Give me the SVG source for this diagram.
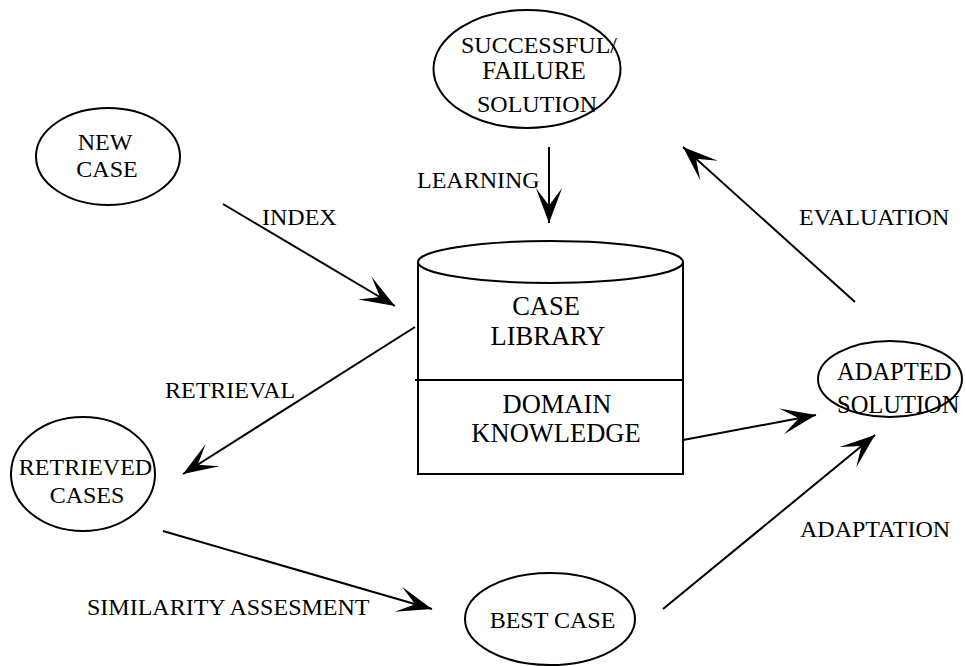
<svg xmlns="http://www.w3.org/2000/svg" width="966" height="666" viewBox="0 0 966 666" font-family="'Liberation Serif', 'DejaVu Serif', serif">
<defs>
<marker id="ah" markerUnits="userSpaceOnUse" markerWidth="40" markerHeight="30" viewBox="-30 -12 32 24" refX="0" refY="0" orient="auto">
<path d="M0,0 L-28,-10.5 L-14,0 L-28,10.5 Z" fill="#000"/>
</marker>
</defs>
<style>
text{font-family:'Liberation Serif','DejaVu Serif',serif;font-size:24px;fill:#000}
.m{text-anchor:middle}
.big{font-size:26.5px}
.n{fill:#fff;stroke:#000;stroke-width:2}
.c line{stroke:#000;stroke-width:2;marker-end:url(#ah)}
</style>
<rect width="966" height="666" fill="#fff"/>
<g id="success">
<ellipse class="n" cx="527" cy="69" rx="93.5" ry="59"/>
<text class="m" x="539" y="53">SUCCESSFUL/</text>
<text class="m" x="534" y="79" style="font-size:25px">FAILURE</text>
<text class="m" x="537" y="112">SOLUTION</text>
</g>
<g id="newcase">
<ellipse class="n" cx="108" cy="156.5" rx="72" ry="48.5"/>
<text class="m" x="105" y="150">NEW</text>
<text class="m" x="107" y="177">CASE</text>
</g>
<g id="library">
<path class="n" d="M418,262 L418,474 L683,474 L683,262"/>
<ellipse class="n" cx="550.5" cy="262" rx="132.5" ry="21"/>
<line x1="415" y1="380" x2="683" y2="380" stroke="#000" stroke-width="2"/>
<text class="m big" x="546" y="315">CASE</text>
<text class="m big" x="548" y="345">LIBRARY</text>
<text class="m big" x="557" y="413">DOMAIN</text>
<text class="m big" x="556" y="442">KNOWLEDGE</text>
</g>
<g id="adapted">
<ellipse class="n" cx="890" cy="379" rx="72" ry="38"/>
<text x="837" y="380" style="font-size:24.5px">ADAPTED</text>
<text x="837" y="413" style="font-size:24.5px">SOLUTION</text>
</g>
<g id="retrieved">
<ellipse class="n" cx="83" cy="474" rx="72" ry="57"/>
<text class="m" x="85.5" y="475">RETRIEVED</text>
<text class="m" x="87" y="503">CASES</text>
</g>
<g id="best">
<ellipse class="n" cx="550" cy="619" rx="85" ry="46"/>
<text class="m" x="552.5" y="628">BEST CASE</text>
</g>
<g class="c" id="connectors">
<line x1="223" y1="204" x2="395" y2="306"/>
<line x1="549" y1="147" x2="549" y2="223"/>
<line x1="855" y1="302" x2="683" y2="147"/>
<line x1="415" y1="327" x2="183" y2="474"/>
<line x1="683" y1="440" x2="816" y2="415"/>
<line x1="163" y1="531" x2="432" y2="609"/>
<line x1="663" y1="609" x2="875" y2="435"/>
</g>
<g id="labels">
<text x="262" y="225">INDEX</text>
<text x="417" y="188">LEARNING</text>
<text x="799" y="225">EVALUATION</text>
<text x="165" y="398">RETRIEVAL</text>
<text x="800" y="537">ADAPTATION</text>
<text x="87" y="615">SIMILARITY ASSESMENT</text>
</g>
</svg>
